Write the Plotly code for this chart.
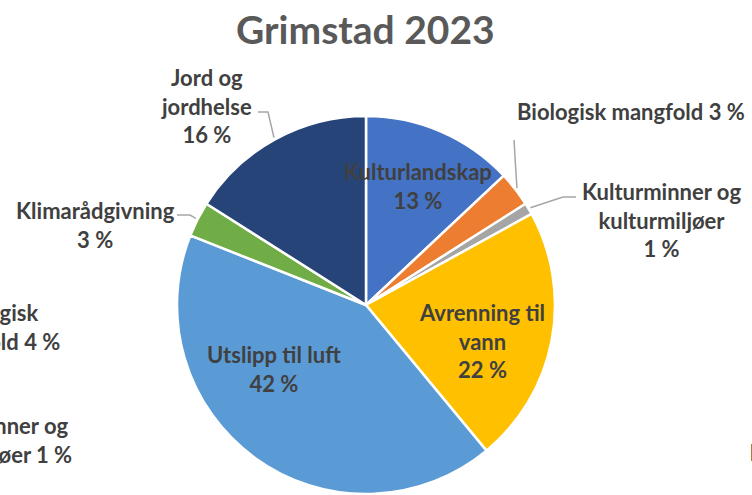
import math
import plotly.graph_objects as go

# data (percent of total)
categories = ['Kulturlandskap', 'Biologisk mangfold', 'Kulturminner og kulturmiljøer',
              'Avrenning til vann', 'Utslipp til luft', 'Klimarådgivning', 'Jord og jordhelse']
values = [13, 3, 1, 22, 42, 3, 16]
colors = ['#4472C4', '#ED7D31', '#A5A5A5', '#FFC000', '#5B9BD5', '#70AD47', '#264478']

# neighbouring charts' labels that are cut by the crop
side_labels = ['Biologisk<br>mangfold 4 %', 'Kulturminner og<br>kulturmiljøer 1 %',
               'Kulturminner og<br>kulturmiljøer 1 %']

W, H = 752, 495
CX, CY, R = 366, 305, 189
TXT = '#404040'
FONT = 'Lato'


def px(x):
    return x / W


def py(y):
    return 1 - y / H


# how each label is wrapped and where it sits (pixels)
label_layout = {
    'Kulturlandskap': ('Kulturlandskap<br>%d %%', 418, 186),
    'Biologisk mangfold': ('Biologisk mangfold %d %%', 631, 111),
    'Kulturminner og kulturmiljøer': ('Kulturminner og<br>kulturmiljøer<br>%d %%', 661, 220),
    'Avrenning til vann': ('Avrenning til<br>vann<br>%d %%', 482, 341),
    'Utslipp til luft': ('Utslipp til luft<br>%d %%', 274, 369),
    'Klimarådgivning': ('Klimarådgivning<br>%d %%', 96, 225),
    'Jord og jordhelse': ('Jord og<br>jordhelse<br>%d %%', 207, 106),
}

# leader lines: elbow points (pixels) for the outside labels
leaders = {
    'Biologisk mangfold': [(514, 140)],
    'Kulturminner og kulturmiljøer': [(563, 197), (576, 197)],
    'Klimarådgivning': [(190, 215), (177, 215)],
    'Jord og jordhelse': [(268, 112), (258, 112)],
}

fig = go.Figure(go.Pie(
    labels=categories,
    values=values,
    marker=dict(colors=colors, line=dict(color='white', width=2.5)),
    sort=False,
    direction='clockwise',
    rotation=0,
    textinfo='none',
    hoverinfo='label+percent',
    domain=dict(x=[px(CX - R), px(CX + R)], y=[py(CY + R), py(CY - R)]),
    showlegend=False,
))

annotations = [dict(
    text='<b>Grimstad 2023</b>', x=px(365), y=py(29), xref='paper', yref='paper',
    xanchor='center', yanchor='middle', showarrow=False,
    font=dict(family=FONT, size=39, color='#595959'))]

total = sum(values)
cum = 0
shapes = []
for cat, val in zip(categories, values):
    mid = (cum + val / 2) / total * 2 * math.pi
    cum += val
    fmt, lx, ly = label_layout[cat]
    annotations.append(dict(
        text='<b>' + fmt % val + '</b>', x=px(lx), y=py(ly), xref='paper', yref='paper',
        xanchor='center', yanchor='middle', align='center', showarrow=False,
        font=dict(family=FONT, size=22, color=TXT)))
    if cat in leaders:
        sx = CX + (R + 2) * math.sin(mid)
        sy = CY - (R + 2) * math.cos(mid)
        pts = [(sx, sy)] + leaders[cat]
        path = 'M ' + ' L '.join('%.4f %.4f' % (px(x), py(y)) for x, y in pts)
        shapes.append(dict(type='path', path=path, xref='paper', yref='paper',
                           line=dict(color='#A6A6A6', width=1.5)))

# cut-off labels of neighbouring charts
for text, x, y, anchor in [(side_labels[0], 62, 327, 'right'),
                           (side_labels[1], 74, 440, 'right'),
                           (side_labels[2], 748, 438, 'left')]:
    annotations.append(dict(
        text='<b>' + text + '</b>', x=px(x), y=py(y), xref='paper', yref='paper',
        xanchor=anchor, yanchor='middle', align='center', showarrow=False,
        font=dict(family=FONT, size=22, color=TXT)))

fig.update_layout(
    width=W, height=H,
    margin=dict(l=0, r=0, t=0, b=0),
    paper_bgcolor='white',
    plot_bgcolor='white',
    annotations=annotations,
    shapes=shapes,
)

# drop the page's default body margin so the figure fills the window
fig.write_html('out.html', config={'displayModeBar': False},
               post_script="document.body.style.margin='0';")
